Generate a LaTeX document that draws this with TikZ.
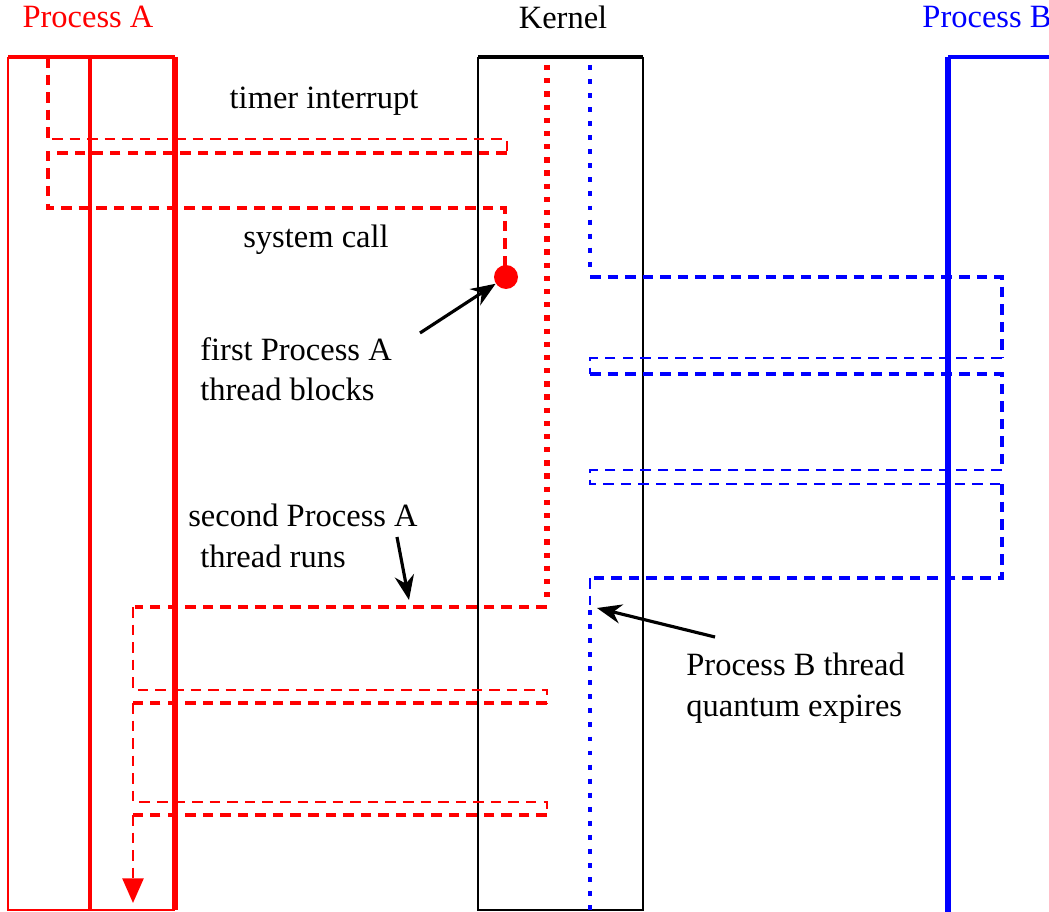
\documentclass[tikz,border=0pt]{standalone}
\usepackage{fontspec}
\setmainfont{Liberation Serif}
\usetikzlibrary{arrows.meta}

\begin{document}
\begin{tikzpicture}[
        x=0.02cm, y=-0.02cm,
        font=\fontsize{18.5pt}{23pt}\selectfont,
        title/.style={inner sep=0pt},
        note/.style={inner sep=0pt, align=left, anchor=west},
        athick/.style={red, line width=2.6pt, dash pattern=on 6pt off 4pt},
        athin/.style={red, line width=1.2pt, dash pattern=on 6pt off 4pt},
        adots/.style={red, line width=3.2pt, dash pattern=on 3pt off 4.5pt},
        bthick/.style={blue, line width=2.6pt, dash pattern=on 6pt off 4pt},
        bthin/.style={blue, line width=1.2pt, dash pattern=on 6pt off 4pt},
        bdots/.style={blue, line width=2.8pt, dash pattern=on 2.8pt off 5.2pt},
        arrow/.style={line width=1.8pt, -{Stealth[length=14pt,width=11pt]}}
    ]

    \useasboundingbox (0,0) rectangle (1049,912);

    % Titoli
    \node (procA) [title, text=red] at (88,17) {Process A};
    \node (kernel) [title] at (563,17) {Kernel};
    \node (procB) [title, text=blue] at (987,17) {Process B};

    % Colonne
    \draw [red, line width=1.3pt] (8,57) -- (8,910) -- (175,910);
    \draw [red, line width=2pt] (8,57) -- (175,57);
    \draw [red, line width=3pt] (175,57) -- (175,910);
    \draw [red, line width=2pt] (90,57) -- (90,910);

    \draw [line width=1.2pt] (478,57) -- (478,910) -- (643,910) -- (643,57);
    \draw [line width=2pt] (478,57) -- (643,57);

    \draw [blue, line width=3.2pt] (948,57) -- (948,912);
    \draw [blue, line width=2pt] (948,57) -- (1049,57);

    % Primo thread A
    \draw [athick] (48,57) -- (48,139);
    \draw [athin] (52,139) -- (507,139) -- (507,153);
    \draw [athick] (507,153) -- (48,153) -- (48,208) -- (505,208) -- (505,268);
    \node (blockdot) [circle, fill=red, inner sep=0pt, minimum size=0.48cm] at (506,277) {};

    % Kernel -> secondo thread A
    \draw [adots] (547,65) -- (547,604);
    \draw [athick] (547,607) -- (135,607);
    \draw [athin] (133,607) -- (133,690) -- (547,690) -- (547,703);
    \draw [athick] (547,703) -- (133,703);
    \draw [athin] (133,703) -- (133,802) -- (547,802) -- (547,815);
    \draw [athick] (547,815) -- (133,815);
    \draw [athin, -{Triangle[width=12pt,length=14pt]}] (133,815) -- (133,903);

    % Thread B
    \draw [bdots] (590,65) -- (590,272);
    \draw [bthick] (590,277) -- (1002,277) -- (1002,358);
    \draw [bthin] (1002,358) -- (590,358) -- (590,374);
    \draw [bthick] (590,374) -- (1002,374) -- (1002,470);
    \draw [bthin] (1002,470) -- (590,470) -- (590,484) -- (1002,484);
    \draw [bthick] (1002,484) -- (1002,578) -- (590,578);
    \draw [bthin] (590,578) -- (590,605);
    \draw [bdots] (590,610) -- (590,910);

    % Etichette
    \node (timer) [title] at (324,101) {timer interrupt};
    \node (syscall) [title] at (316,240) {system call};
    \node (blocks) [note] at (200,369) {first Process A\\thread blocks};
    \node (runs) [note] at (188,536) {second Process A\\\hspace*{0.24cm}thread runs};
    \node (expires) [note] at (686,688) {Process B thread\\quantum expires};

    % Frecce
    \coordinate (blocktail) at (420,333);
    \coordinate (runstail) at (397,537);
    \coordinate (runstip) at (409,600);
    \coordinate (quanttail) at (715,637);
    \coordinate (quanttip) at (597,608);

    \draw [arrow] (blocktail) -- (blockdot);
    \draw [arrow] (runstail) -- (runstip);
    \draw [arrow] (quanttail) -- (quanttip);

\end{tikzpicture}
\end{document}
